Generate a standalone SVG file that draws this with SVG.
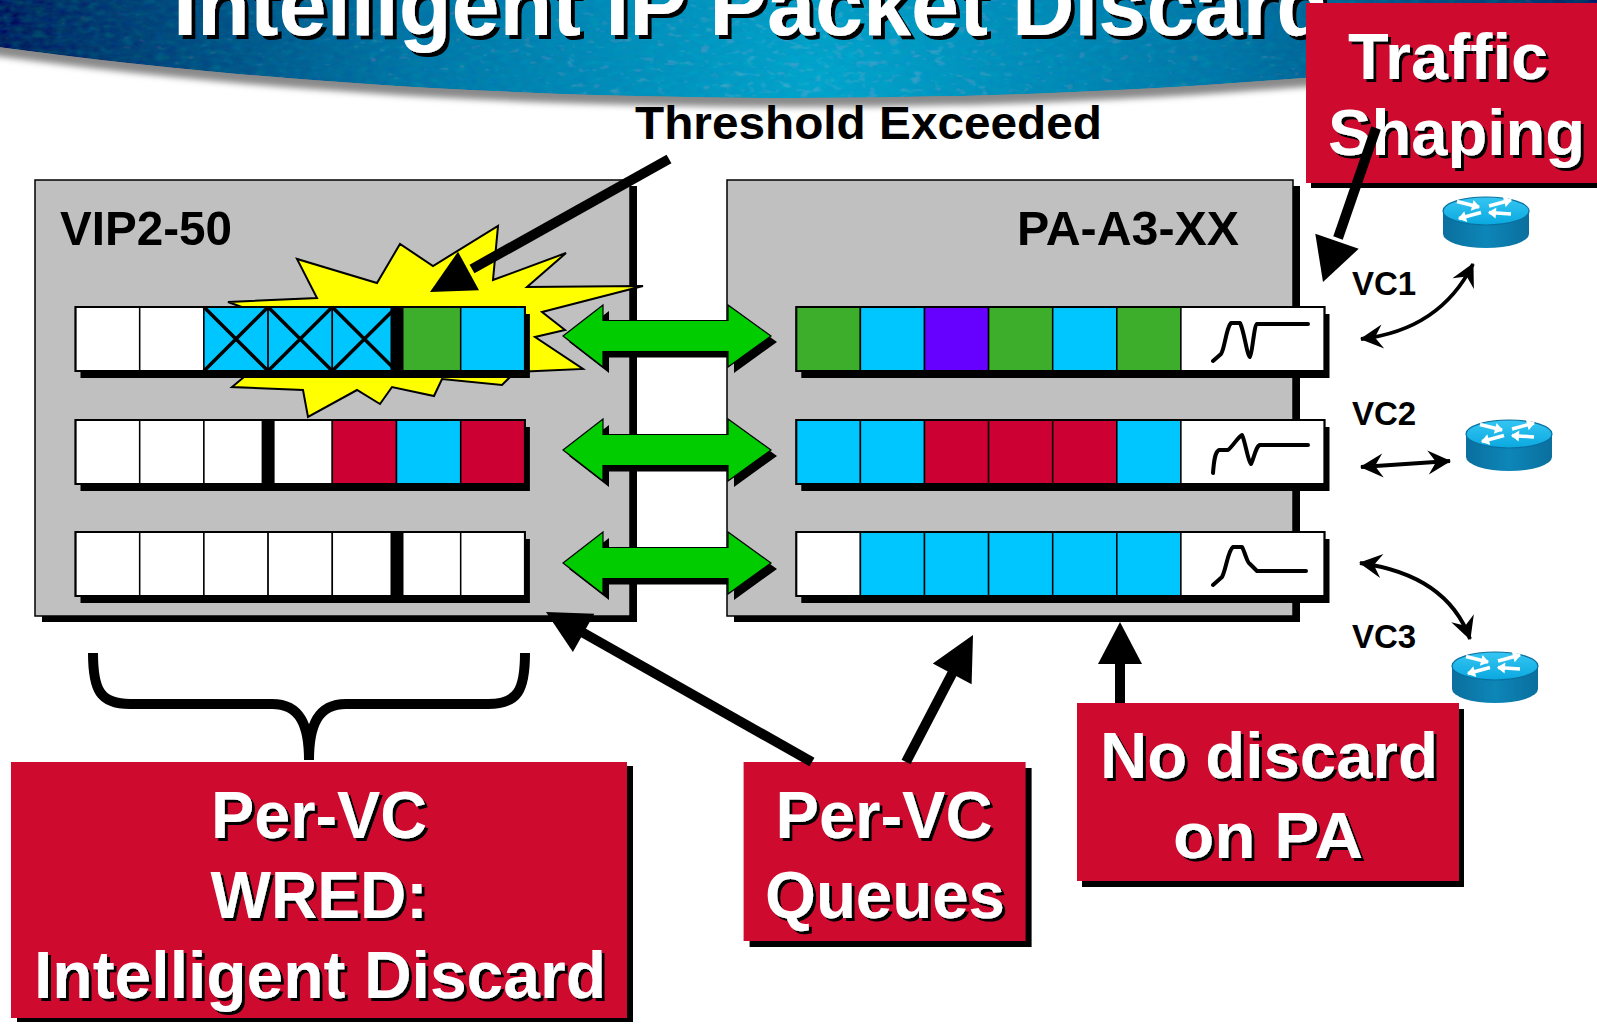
<svg xmlns="http://www.w3.org/2000/svg" xmlns:xlink="http://www.w3.org/1999/xlink" width="1597" height="1024" viewBox="0 0 1597 1024">
  <style>
    .t{font-family:"Liberation Sans",Arial,Helvetica,sans-serif;font-weight:bold}
    .cell{stroke:#000;stroke-width:1.5}
    .w{fill:#fff}
    .c{fill:#00C6FF}
    .g{fill:#3DAE2B}
    .r{fill:#CC0033}
    .p{fill:#6600FF}
    .k{fill:#000}
    .box{fill:#C0C0C0;stroke:#000;stroke-width:1.5}
    .red{fill:#CE0A2F}
    .frame{fill:none;stroke:#000;stroke-width:2}
    .x{stroke:#000;stroke-width:3.5}
    .bk{stroke:#000;stroke-width:10;fill:none}
    .vc{stroke:#000;stroke-width:3.8;fill:none;marker-start:url(#barb);marker-end:url(#barb)}
    .wave{stroke:#000;stroke-width:4;fill:none;stroke-linejoin:round;stroke-linecap:round}
    .wa{stroke:#fff;stroke-width:3.4;fill:none;marker-end:url(#wa)}
  </style>
  <defs>
    <radialGradient id="bannerGrad" gradientUnits="userSpaceOnUse" cx="820" cy="80" r="900">
      <stop offset="0" stop-color="#2eaad0"/>
      <stop offset="0.45" stop-color="#1b80ad"/>
      <stop offset="1" stop-color="#0b3360"/>
    </radialGradient>
    <linearGradient id="rtop" x1="0" y1="0" x2="0" y2="1">
      <stop offset="0" stop-color="#35c6f2"/>
      <stop offset="1" stop-color="#0aa8e0"/>
    </linearGradient>
    <linearGradient id="rside" x1="0" y1="0" x2="1" y2="0">
      <stop offset="0" stop-color="#0a6f9e"/>
      <stop offset="0.5" stop-color="#0d86b8"/>
      <stop offset="1" stop-color="#0a6f9e"/>
    </linearGradient>
    <filter id="soft" x="-5%" y="-5%" width="110%" height="120%">
      <feGaussianBlur stdDeviation="3"/>
    </filter>
    <!-- fine fabric-like grain for the banner -->
    <filter id="grain" x="0" y="0" width="100%" height="100%">
      <feTurbulence type="fractalNoise" baseFrequency="0.09 0.18" numOctaves="2" seed="7" result="n"/>
      <feComposite in="SourceGraphic" in2="n" operator="arithmetic" k1="0" k2="1" k3="0.12" k4="-0.06" result="m"/>
      <feComposite in="m" in2="SourceAlpha" operator="in"/>
    </filter>
    <filter id="ts" x="-5%" y="-10%" width="115%" height="130%">
      <feOffset in="SourceAlpha" dx="3" dy="3" result="o"/>
      <feMerge><feMergeNode in="o"/><feMergeNode in="SourceGraphic"/></feMerge>
    </filter>
    <filter id="ts4" x="-5%" y="-10%" width="115%" height="130%">
      <feOffset in="SourceAlpha" dx="4" dy="4" result="o"/>
      <feMerge><feMergeNode in="o"/><feMergeNode in="SourceGraphic"/></feMerge>
    </filter>
    <marker id="barb" viewBox="-24 -13 26 26" refX="0" refY="0" markerWidth="26" markerHeight="26" markerUnits="userSpaceOnUse" orient="auto-start-reverse">
      <path d="M1,0 L-22,-12 L-14,0 L-22,12 Z" fill="#000"/>
    </marker>
    <marker id="wa" viewBox="-8 -6 9 12" refX="0" refY="0" markerWidth="9" markerHeight="12" markerUnits="userSpaceOnUse" orient="auto">
      <path d="M1,0 L-7,-5.5 L-7,5.5 Z" fill="#fff"/>
    </marker>
    <!-- double-headed block arrow, left tip at origin -->
    <path id="dbl" d="M0,0 L40,-31 L40,-15.5 L165,-15.5 L165,-31 L208,0 L165,31 L165,15.5 L40,15.5 L40,31 Z"/>
    <!-- router: top ellipse centred at origin -->
    <g id="router">
      <path d="M-43,0 L-43,23 A43,14 0 0 0 43,23 L43,0 Z" fill="url(#rside)"/>
      <ellipse cx="0" cy="0" rx="43" ry="14" fill="url(#rtop)" stroke="#0a6f9e" stroke-width="1.2"/>
      <path class="wa" d="M-29,-9.5 L-7,-4"/>
      <path class="wa" d="M3,-5 L25,-11"/>
      <path class="wa" d="M-5,1.5 L-27,7.5"/>
      <path class="wa" d="M25,3 L3,1.5"/>
    </g>
  </defs>

  <rect width="1597" height="1024" fill="#fff"/>

  <!-- title banner -->
  <g id="banner">
    <ellipse cx="794" cy="-297" rx="1640" ry="404" fill="#8a8a8a" filter="url(#soft)"/>
    <ellipse cx="794" cy="-306" rx="1636" ry="404" fill="url(#bannerGrad)" filter="url(#grain)"/>
    <text class="t" x="173" y="35" font-size="88" fill="#fff" textLength="1156" lengthAdjust="spacingAndGlyphs" filter="url(#ts4)">Intelligent IP Packet Discard</text>
  </g>

  <g id="threshold-label">
    <text class="t" x="635" y="139" font-size="47" fill="#000" textLength="467" lengthAdjust="spacingAndGlyphs">Threshold Exceeded</text>
  </g>

  <!-- VIP2-50 card with WRED queues -->
  <g id="vip2-50">
    <rect x="42" y="186" width="595" height="436" class="k"/>
    <rect x="35" y="180" width="595" height="436" class="box"/>
    <text class="t" x="60" y="245" font-size="49" fill="#000" textLength="172" lengthAdjust="spacingAndGlyphs">VIP2-50</text>

    <polygon points="228,302 317,298 297,259 377,283 400,244 433,266 498,226 493,280 566,253 527,287 643,286 542,312 565,330 535,337 583,369 515,372 502,385 442,379 434,396 392,387 380,404 357,390 308,417 303,390 232,387 250,372 250,310" fill="#FFFF00" stroke="#000" stroke-width="2" stroke-linejoin="miter"/>

    <!-- queue 1 -->
    <g id="vip-q1">
      <rect x="80.5" y="314" width="449.4" height="64" class="k"/>
      <rect x="75.5" y="307" width="64.2" height="64" class="cell w"/>
      <rect x="139.7" y="307" width="64.2" height="64" class="cell w"/>
      <rect x="203.9" y="307" width="64.2" height="64" class="cell c"/>
      <rect x="268.1" y="307" width="64.2" height="64" class="cell c"/>
      <rect x="332.3" y="307" width="64.2" height="64" class="cell c"/>
      <rect x="396.5" y="307" width="64.2" height="64" class="cell g"/>
      <rect x="460.7" y="307" width="64.2" height="64" class="cell c"/>
      <path class="x" d="M203.9,307 L268.1,371 M203.9,371 L268.1,307 M268.1,307 L332.3,371 M268.1,371 L332.3,307 M332.3,307 L396.5,371 M332.3,371 L396.5,307"/>
      <rect x="390.5" y="307" width="13" height="64" class="k"/>
      <rect x="75.5" y="307" width="449.4" height="64" class="frame"/>
    </g>
    <!-- queue 2 -->
    <g id="vip-q2">
      <rect x="80.5" y="427" width="449.4" height="64" class="k"/>
      <rect x="75.5" y="420" width="64.2" height="64" class="cell w"/>
      <rect x="139.7" y="420" width="64.2" height="64" class="cell w"/>
      <rect x="203.9" y="420" width="64.2" height="64" class="cell w"/>
      <rect x="268.1" y="420" width="64.2" height="64" class="cell w"/>
      <rect x="332.3" y="420" width="64.2" height="64" class="cell r"/>
      <rect x="396.5" y="420" width="64.2" height="64" class="cell c"/>
      <rect x="460.7" y="420" width="64.2" height="64" class="cell r"/>
      <rect x="261.6" y="420" width="13" height="64" class="k"/>
      <rect x="75.5" y="420" width="449.4" height="64" class="frame"/>
    </g>
    <!-- queue 3 -->
    <g id="vip-q3">
      <rect x="80.5" y="539" width="449.4" height="64" class="k"/>
      <rect x="75.5" y="532" width="64.2" height="64" class="cell w"/>
      <rect x="139.7" y="532" width="64.2" height="64" class="cell w"/>
      <rect x="203.9" y="532" width="64.2" height="64" class="cell w"/>
      <rect x="268.1" y="532" width="64.2" height="64" class="cell w"/>
      <rect x="332.3" y="532" width="64.2" height="64" class="cell w"/>
      <rect x="396.5" y="532" width="64.2" height="64" class="cell w"/>
      <rect x="460.7" y="532" width="64.2" height="64" class="cell w"/>
      <rect x="390.5" y="532" width="13" height="64" class="k"/>
      <rect x="75.5" y="532" width="449.4" height="64" class="frame"/>
    </g>
  </g>

  <!-- PA-A3-XX port adapter with per-VC queues and shapers -->
  <g id="pa-a3-xx">
    <rect x="734" y="186" width="566" height="436" class="k"/>
    <rect x="727" y="180" width="566" height="436" class="box"/>
    <text class="t" x="1017" y="245" font-size="49" fill="#000" textLength="222" lengthAdjust="spacingAndGlyphs">PA-A3-XX</text>

    <g id="pa-q1">
      <rect x="801.3" y="314" width="528.2" height="64" class="k"/>
      <rect x="796.3" y="307" width="64.1" height="64" class="cell g"/>
      <rect x="860.4" y="307" width="64.1" height="64" class="cell c"/>
      <rect x="924.5" y="307" width="64.1" height="64" class="cell p"/>
      <rect x="988.6" y="307" width="64.1" height="64" class="cell g"/>
      <rect x="1052.7" y="307" width="64.1" height="64" class="cell c"/>
      <rect x="1116.8" y="307" width="64.1" height="64" class="cell g"/>
      <rect x="1180.9" y="307" width="143.6" height="64" class="cell w"/>
      <path class="wave" d="M1213,361 L1221,354 C1225,348 1226,328 1231,323 L1240,323 C1244,330 1247,356 1250,357 C1252,356 1254,325 1257,324 L1308,324"/>
      <rect x="796.3" y="307" width="528.2" height="64" class="frame"/>
    </g>
    <g id="pa-q2">
      <rect x="801.3" y="427" width="528.2" height="64" class="k"/>
      <rect x="796.3" y="420" width="64.1" height="64" class="cell c"/>
      <rect x="860.4" y="420" width="64.1" height="64" class="cell c"/>
      <rect x="924.5" y="420" width="64.1" height="64" class="cell r"/>
      <rect x="988.6" y="420" width="64.1" height="64" class="cell r"/>
      <rect x="1052.7" y="420" width="64.1" height="64" class="cell r"/>
      <rect x="1116.8" y="420" width="64.1" height="64" class="cell c"/>
      <rect x="1180.9" y="420" width="143.6" height="64" class="cell w"/>
      <path class="wave" d="M1213,473 C1214,460 1215,452 1219,450 L1228,450 C1233,446 1238,437 1242,435 C1245,440 1248,462 1251,464 C1254,458 1256,446 1260,445 L1308,445"/>
      <rect x="796.3" y="420" width="528.2" height="64" class="frame"/>
    </g>
    <g id="pa-q3">
      <rect x="801.3" y="539" width="528.2" height="64" class="k"/>
      <rect x="796.3" y="532" width="64.1" height="64" class="cell w"/>
      <rect x="860.4" y="532" width="64.1" height="64" class="cell c"/>
      <rect x="924.5" y="532" width="64.1" height="64" class="cell c"/>
      <rect x="988.6" y="532" width="64.1" height="64" class="cell c"/>
      <rect x="1052.7" y="532" width="64.1" height="64" class="cell c"/>
      <rect x="1116.8" y="532" width="64.1" height="64" class="cell c"/>
      <rect x="1180.9" y="532" width="143.6" height="64" class="cell w"/>
      <path class="wave" d="M1213,585 L1222,577 C1226,570 1228,550 1233,547 L1242,547 C1245,552 1247,563 1250,564 L1257,571 L1306,571"/>
      <rect x="796.3" y="532" width="528.2" height="64" class="frame"/>
    </g>
  </g>

  <!-- remote routers -->
  <g id="router-vc1"><use xlink:href="#router" href="#router" x="1486" y="211"/></g>
  <g id="router-vc2"><use xlink:href="#router" href="#router" x="1509" y="434"/></g>
  <g id="router-vc3"><use xlink:href="#router" href="#router" x="1495" y="666"/></g>

  <g id="vc-labels">
    <text class="t" x="1352" y="295" font-size="33" fill="#000">VC1</text>
    <text class="t" x="1352" y="425" font-size="33" fill="#000">VC2</text>
    <text class="t" x="1352" y="648" font-size="33" fill="#000">VC3</text>
  </g>

  <!-- callouts -->
  <g id="callout-traffic-shaping">
    <rect x="1311" y="8" width="300" height="180" class="k"/>
    <rect x="1306" y="3" width="300" height="180" class="red"/>
    <text class="t" x="1348" y="79" font-size="65" fill="#fff" textLength="200" lengthAdjust="spacingAndGlyphs" filter="url(#ts)">Traffic</text>
    <text class="t" x="1328" y="155" font-size="65" fill="#fff" textLength="257" lengthAdjust="spacingAndGlyphs" filter="url(#ts)">Shaping</text>
  </g>

  <g id="callout-wred">
    <rect x="17" y="766" width="616" height="256" class="k"/>
    <rect x="11" y="762" width="616" height="256" class="red"/>
    <g class="t" font-size="67" fill="#fff" text-anchor="middle" filter="url(#ts)">
      <text x="319" y="838" textLength="216" lengthAdjust="spacingAndGlyphs">Per-VC</text>
      <text x="319" y="918" textLength="217" lengthAdjust="spacingAndGlyphs">WRED:</text>
      <text x="320" y="998" textLength="572" lengthAdjust="spacingAndGlyphs">Intelligent Discard</text>
    </g>
  </g>

  <g id="callout-queues">
    <rect x="749.6" y="768" width="282" height="179" class="k"/>
    <rect x="743.6" y="762" width="282" height="179" class="red"/>
    <g class="t" font-size="67" fill="#fff" text-anchor="middle" filter="url(#ts)">
      <text x="884" y="838" textLength="217" lengthAdjust="spacingAndGlyphs">Per-VC</text>
      <text x="885" y="918" textLength="240" lengthAdjust="spacingAndGlyphs">Queues</text>
    </g>
  </g>

  <g id="callout-no-discard">
    <rect x="1082" y="709" width="382" height="178" class="k"/>
    <rect x="1077" y="703" width="382" height="178" class="red"/>
    <g class="t" font-size="65" fill="#fff" text-anchor="middle" filter="url(#ts)">
      <text x="1269" y="778" textLength="338" lengthAdjust="spacingAndGlyphs">No discard</text>
      <text x="1268" y="858" textLength="190" lengthAdjust="spacingAndGlyphs">on PA</text>
    </g>
  </g>

  <!-- connectors -->
  <g id="connectors">
    <!-- card-to-adapter links -->
    <use xlink:href="#dbl" href="#dbl" x="569" y="342" class="k"/>
    <use xlink:href="#dbl" href="#dbl" x="563" y="336" fill="#00CC00" stroke="#000" stroke-width="1.2"/>
    <use xlink:href="#dbl" href="#dbl" x="569" y="456" class="k"/>
    <use xlink:href="#dbl" href="#dbl" x="563" y="450" fill="#00CC00" stroke="#000" stroke-width="1.2"/>
    <use xlink:href="#dbl" href="#dbl" x="569" y="569" class="k"/>
    <use xlink:href="#dbl" href="#dbl" x="563" y="563" fill="#00CC00" stroke="#000" stroke-width="1.2"/>

    <!-- threshold pointer -->
    <line class="bk" x1="669" y1="159" x2="472" y2="269"/>
    <polygon points="430,292 479,290.3 458,251.7" class="k"/>

    <!-- traffic shaping pointer -->
    <line class="bk" x1="1376" y1="128" x2="1338" y2="238"/>
    <polygon points="1323,282 1358.7,248.8 1315.3,233.8" class="k"/>

    <!-- queue callout pointers -->
    <line class="bk" x1="812" y1="762" x2="580" y2="631"/>
    <polygon points="546,612 572.9,652.1 594.3,613.7" class="k"/>
    <line class="bk" x1="906" y1="762" x2="954" y2="670"/>
    <polygon points="973,635 971.6,684.2 932.8,663.4" class="k"/>

    <!-- no-discard pointer -->
    <line class="bk" x1="1120" y1="703" x2="1120" y2="660"/>
    <polygon points="1120,622 1142,664 1098,664" class="k"/>

    <!-- brace grouping the WRED queues -->
    <path class="bk" d="M93,653 C93,690 100,704 130,704 L272,704 C300,704 309,725 309,760 M525,653 C525,690 518,704 488,704 L346,704 C318,704 309,725 309,760"/>

    <!-- virtual circuits -->
    <path class="vc" d="M1361,339 Q1440,330 1473,264"/>
    <path class="vc" d="M1361,467 L1450,461"/>
    <path class="vc" d="M1360,563 Q1447,575 1470,639"/>
  </g>
</svg>
